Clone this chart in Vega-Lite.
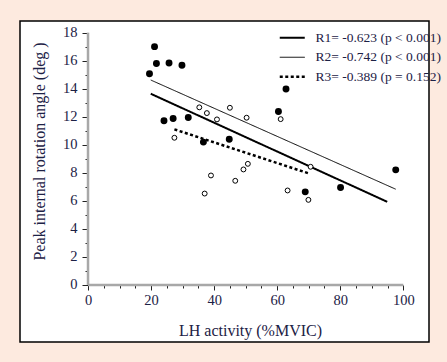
{
  "$schema": "https://vega.github.io/schema/vega-lite/v6.json",
  "autosize": {"type": "none"},
  "width": 409,
  "height": 321,
  "padding": {"left": 20, "top": 21, "right": 18, "bottom": 20},
  "background": "#fdeadf",
  "config": {
    "view": {"fill": "white", "stroke": "black", "strokeWidth": 1.5},
    "font": "Liberation Serif",
    "axis": {
      "grid": false,
      "domain": false,
      "labelFont": "Liberation Serif",
      "labelFontSize": 14.5,
      "labelColor": "#1c2145",
      "titleFont": "Liberation Serif",
      "titleFontSize": 16,
      "titleFontWeight": "normal",
      "titleColor": "#1c2145",
      "tickColor": "#222222",
      "tickWidth": 1
    }
  },
  "datasets": {
    "pts": [
      {"x": 19.5, "y": 15.07, "g": "filled"},
      {"x": 21.1, "y": 17.0, "g": "filled"},
      {"x": 21.7, "y": 15.8, "g": "filled"},
      {"x": 25.7, "y": 15.83, "g": "filled"},
      {"x": 29.8, "y": 15.67, "g": "filled"},
      {"x": 24.1, "y": 11.71, "g": "filled"},
      {"x": 27.0, "y": 11.88, "g": "filled"},
      {"x": 31.8, "y": 11.95, "g": "filled"},
      {"x": 36.6, "y": 10.19, "g": "filled"},
      {"x": 44.8, "y": 10.4, "g": "filled"},
      {"x": 60.4, "y": 12.38, "g": "filled"},
      {"x": 62.8, "y": 13.98, "g": "filled"},
      {"x": 68.9, "y": 6.64, "g": "filled"},
      {"x": 80.1, "y": 6.95, "g": "filled"},
      {"x": 97.6, "y": 8.21, "g": "filled"},
      {"x": 35.3, "y": 12.67, "g": "open"},
      {"x": 37.7, "y": 12.26, "g": "open"},
      {"x": 40.9, "y": 11.81, "g": "open"},
      {"x": 45.0, "y": 12.64, "g": "open"},
      {"x": 50.3, "y": 11.93, "g": "open"},
      {"x": 61.1, "y": 11.83, "g": "open"},
      {"x": 27.4, "y": 10.5, "g": "open"},
      {"x": 39.0, "y": 7.81, "g": "open"},
      {"x": 37.0, "y": 6.52, "g": "open"},
      {"x": 46.7, "y": 7.43, "g": "open"},
      {"x": 49.3, "y": 8.24, "g": "open"},
      {"x": 50.7, "y": 8.64, "g": "open"},
      {"x": 63.3, "y": 6.74, "g": "open"},
      {"x": 69.9, "y": 6.07, "g": "open"},
      {"x": 70.6, "y": 8.43, "g": "open"}
    ],
    "fits": [
      {"series": "R1= -0.623 (p < 0.001)", "x": 19.9, "y": 13.64},
      {"series": "R1= -0.623 (p < 0.001)", "x": 94.9, "y": 5.93},
      {"series": "R2= -0.742 (p < 0.001)", "x": 19.9, "y": 14.62},
      {"series": "R2= -0.742 (p < 0.001)", "x": 97.6, "y": 6.83},
      {"series": "R3= -0.389 (p = 0.152)", "x": 27.4, "y": 11.1},
      {"series": "R3= -0.389 (p = 0.152)", "x": 70.4, "y": 7.93}
    ]
  },
  "encoding": {
    "x": {
      "type": "quantitative",
      "scale": {"domain": [-21.57, 108.15], "nice": false, "zero": false},
      "axis": {
        "title": "LH activity (%MVIC)",
        "offset": -57,
        "values": [0,5,10,15,20,25,30,35,40,45,50,55,60,65,70,75,80,85,90,95,100],
        "labelExpr": "datum.value % 20 === 0 ? datum.label : ''",
        "tickSize": {"condition": {"test": "datum.value % 20 === 0", "value": 5}, "value": 3},
        "labelPadding": 3,
        "titleX": 230,
        "titleY": 45,
        "titleBaseline": "middle",
        "titleAnchor": null
      }
    },
    "y": {
      "type": "quantitative",
      "scale": {"domain": [-4.07, 18.83], "nice": false, "zero": false},
      "axis": {
        "title": "Peak internal rotation angle (deg )",
        "offset": -68,
        "values": [0,1,2,3,4,5,6,7,8,9,10,11,12,13,14,15,16,17,18],
        "labelExpr": "datum.value % 2 === 0 ? datum.label : ''",
        "tickSize": {"condition": {"test": "datum.value % 2 === 0", "value": 6}, "value": 3},
        "labelPadding": 5,
        "titleX": -49,
        "titleY": 130,
        "titleAngle": 270,
        "titleBaseline": "middle"
      }
    }
  },
  "layer": [
    {
      "data": {"values": [{"x": 0, "x2": 100, "y": 0}]},
      "mark": {"type": "rule", "color": "#a8a8a8", "strokeWidth": 2.5},
      "encoding": {"x": {"field": "x", "type": "quantitative"}, "x2": {"field": "x2"}, "y": {"field": "y", "type": "quantitative"}}
    },
    {
      "data": {"values": [{"x": 0, "y": 0, "y2": 18}]},
      "mark": {"type": "rule", "color": "#a8a8a8", "strokeWidth": 2.5},
      "encoding": {"x": {"field": "x", "type": "quantitative"}, "y": {"field": "y", "type": "quantitative"}, "y2": {"field": "y2"}}
    },
    {
      "data": {"name": "fits"},
      "mark": {"type": "line", "color": "black"},
      "encoding": {
        "x": {"field": "x", "type": "quantitative"},
        "y": {"field": "y", "type": "quantitative"},
        "detail": {"field": "series"},
        "strokeDash": {
          "field": "series", "type": "nominal",
          "scale": {"domain": ["R1= -0.623 (p < 0.001)", "R2= -0.742 (p < 0.001)", "R3= -0.389 (p = 0.152)"], "range": [[1, 0], [1, 0], [3, 2.5]]},
          "legend": {
            "title": null, "orient": "none", "legendX": 265.5, "legendY": 10,
            "padding": 0, "symbolType": "M-2.5,0H2.5", "symbolSize": 100,
            "symbolStrokeColor": "black", "labelOffset": 16.5, "rowPadding": 4.5,
            "labelFont": "Liberation Serif", "labelFontSize": 13.5, "labelColor": "#1c2145"
          }
        },
        "strokeWidth": {
          "field": "series", "type": "ordinal",
          "scale": {"type": "ordinal", "domain": ["R1= -0.623 (p < 0.001)", "R2= -0.742 (p < 0.001)", "R3= -0.389 (p = 0.152)"], "range": [2, 1, 2.5]},
          "legend": {
            "title": null, "orient": "none", "legendX": 265.5, "legendY": 10,
            "padding": 0, "symbolType": "M-2.5,0H2.5", "symbolSize": 100,
            "symbolStrokeColor": "black", "labelOffset": 16.5, "rowPadding": 4.5,
            "labelFont": "Liberation Serif", "labelFontSize": 13.5, "labelColor": "#1c2145"
          }
        }
      }
    },
    {
      "data": {"name": "pts"},
      "transform": [{"filter": "datum.g === 'open'"}],
      "mark": {"type": "point", "shape": "circle", "filled": false, "stroke": "black", "fill": "white", "strokeWidth": 1, "size": 24, "opacity": 1},
      "encoding": {"x": {"field": "x", "type": "quantitative"}, "y": {"field": "y", "type": "quantitative"}}
    },
    {
      "data": {"name": "pts"},
      "transform": [{"filter": "datum.g === 'filled'"}],
      "mark": {"type": "point", "shape": "circle", "filled": true, "color": "black", "size": 48, "opacity": 1},
      "encoding": {"x": {"field": "x", "type": "quantitative"}, "y": {"field": "y", "type": "quantitative"}}
    }
  ]
}
